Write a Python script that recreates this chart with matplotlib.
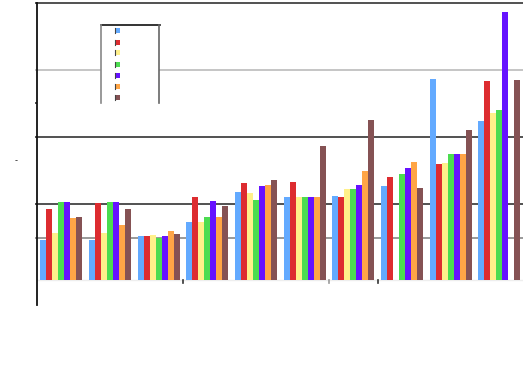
import matplotlib
matplotlib.use("Agg")
import matplotlib.pyplot as plt
import numpy as np
from matplotlib.patches import Rectangle
from matplotlib.lines import Line2D

# ---- data (arbitrary units) ----
groups = list(range(10))
s_blue   = [40, 40, 44, 58, 88, 83, 84, 94, 201, 159]
s_red    = [71, 77, 44, 83, 97, 98, 83, 103, 116, 199]
s_yellow = [47, 47, 45, 58, 87, 83, 91, 0, 117, 167]
s_green  = [78, 78, 42, 63, 80, 83, 91, 106, 126, 170]
s_purple = [78, 78, 44, 79, 94, 83, 95, 112, 126, 268]
s_orange = [62, 55, 49, 63, 95, 83, 109, 118, 126, 0]
s_brown  = [63, 71, 46, 74, 100, 134, 160, 92, 150, 200]
series = [s_blue, s_red, s_yellow, s_green, s_purple, s_orange, s_brown]
colors = ["#63aaff", "#dd2c30", "#fff08a", "#4cdc50", "#6612ff", "#ffa546", "#855254"]

grid_levels = [42, 76, 143, 210, 277]
grid_colors = ["#888888", "#333333", "#333333", "#bbbbbb", "#333333"]
minor_xticks = [2.5, 5.5, 6.5]
minor_xtick_colors = ["#333333", "#999999", "#333333"]

W, H = 523, 390
fig = plt.figure(figsize=(W / 100, H / 100), dpi=100)
ax = fig.add_axes([37 / W, (H - 305) / H, 486 / W, 302 / H])
ax.set_xlim(-0.5, 9.486)
ax.set_ylim(-25, 277.5)

# gridlines
for lvl, c in zip(grid_levels, grid_colors):
    ax.hlines(lvl, -0.0045, 1.0, transform=ax.get_yaxis_transform(),
              colors=c, lw=1.2, clip_on=False, zorder=1)

# faint baseline
ax.axhline(0, color="#eeeeee", lw=1, zorder=1)

# bars
n = len(series)
bw = 0.1233
x = np.arange(len(groups))
for j, (vals, c) in enumerate(zip(series, colors)):
    ax.bar(x + (j - (n - 1) / 2) * bw, vals, width=bw, color=c,
           edgecolor="none", zorder=2)

# minor ticks at bottom
for xt, c in zip(minor_xticks, minor_xtick_colors):
    ax.plot([xt, xt], [0, -3], color=c, lw=1.2, zorder=3, clip_on=False)

# lone tick on left axis
ax.hlines(177, -0.0045, 0, transform=ax.get_yaxis_transform(),
          colors="#333333", lw=1.2, clip_on=False)

# spines
for s in ["top", "right", "bottom"]:
    ax.spines[s].set_visible(False)
ax.spines["left"].set_color("#111111")
ax.spines["left"].set_linewidth(1.3)
ax.set_xticks([])
ax.set_yticks([])

# legend box (drawn in figure pixels)
def fx(px):
    return px / W

def fy(py):
    return 1 - py / H

fig.patches.append(Rectangle((fx(101), fy(103)), fx(58), (103 - 25) / H,
                             transform=fig.transFigure, facecolor="white",
                             edgecolor="none", zorder=5))
fig.lines.append(Line2D([fx(101), fx(159.5)], [fy(25.3), fy(25.3)],
                        transform=fig.transFigure, color="#111111", lw=1.2, zorder=6))
fig.lines.append(Line2D([fx(101), fx(101)], [fy(25.3), fy(103)],
                        transform=fig.transFigure, color="#888888", lw=1.2, zorder=6))
fig.lines.append(Line2D([fx(159.3), fx(159.3)], [fy(25.3), fy(103)],
                        transform=fig.transFigure, color="#666666", lw=1.2, zorder=6))
leg_y = [30.7, 42, 52.7, 64, 75, 86, 97]
for yy, c in zip(leg_y, colors):
    fig.patches.append(Rectangle((fx(115), fy(yy + 2.5)), fx(5), 5 / H,
                                 transform=fig.transFigure, facecolor=c,
                                 edgecolor="none", zorder=7))
    fig.lines.append(Line2D([fx(115.2), fx(115.2)], [fy(yy + 2.5), fy(yy - 2.5)],
                            transform=fig.transFigure, color="#444444", lw=0.8, zorder=8))

fig.text(fx(16), fy(161), "-", fontsize=6, ha="center", va="center", color="#222222")

fig.savefig("out.png", dpi=100)
